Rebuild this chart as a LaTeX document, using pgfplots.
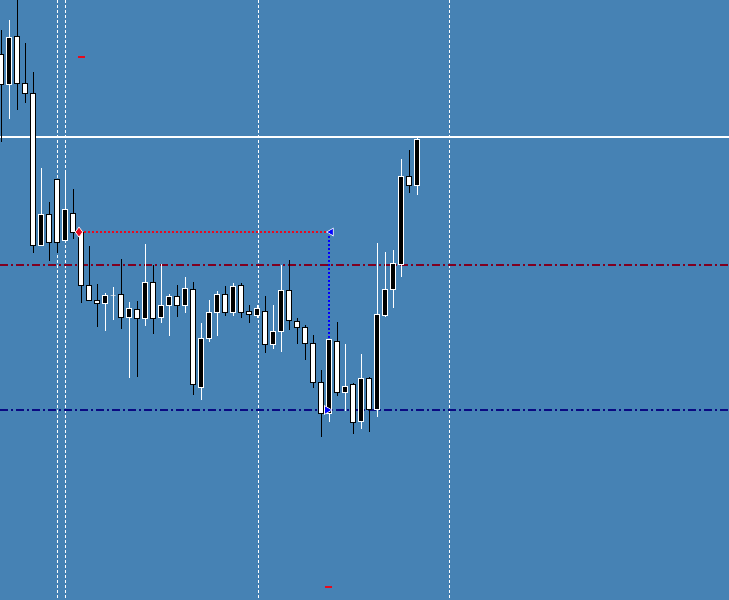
\documentclass[border=0pt]{standalone}
\usepackage{pgfplots}
\pgfplotsset{compat=1.18}
\definecolor{chartbg}{RGB}{70,130,180}
\definecolor{lvlred}{RGB}{128,0,32}
\definecolor{lvlblue}{RGB}{10,10,130}
\definecolor{mkred}{RGB}{230,10,30}
\definecolor{mkblue}{RGB}{0,0,255}

% candle: x, open, close, high, low, body fill, edge/wick colour
\newcommand\candle[7]{%
  \pgfmathsetmacro\xa{#1-2.5}%
  \pgfmathsetmacro\xb{#1+2.5}%
  \addplot[#7, line width=0.5pt] coordinates {(#1,#4) (#1,#5)};
  \edef\tmp{\noexpand\addplot[fill=#6, draw=#7, line width=0.5pt] coordinates {(\xa,#2) (\xb,#2) (\xb,#3) (\xa,#3)} -- cycle;}%
  \tmp
}
\newcommand\bull[5]{\candle{#1}{#2}{#3}{#4}{#5}{black}{white}}
\newcommand\bear[5]{\candle{#1}{#2}{#3}{#4}{#5}{white}{black}}

\begin{document}
\begin{tikzpicture}
\begin{axis}[
  scale only axis, width=364.5pt, height=300pt,
  xmin=0, xmax=729, ymin=0, ymax=600, y dir=reverse,
  axis background/.style={fill=chartbg},
  axis line style={draw=none}, ticks=none,
]
% period separators
\addplot[white, line width=0.5pt, dash pattern=on 1.5pt off 1pt] coordinates {(57,0) (57,600)};
\addplot[white, line width=0.5pt, dash pattern=on 1.5pt off 1pt] coordinates {(65,0) (65,600)};
\addplot[white, line width=0.5pt, dash pattern=on 1.5pt off 1pt] coordinates {(258,0) (258,600)};
\addplot[white, line width=0.5pt, dash pattern=on 1.5pt off 1pt] coordinates {(449,0) (449,600)};
% price level lines
\addplot[white, line width=0.6pt] coordinates {(0,137) (729,137)};
\addplot[lvlred, line width=0.6pt, dash pattern=on 4pt off 1.5pt on 1pt off 1.5pt] coordinates {(0,265) (729,265)};
\addplot[lvlblue, line width=0.6pt, dash pattern=on 4pt off 1.5pt on 1pt off 1.5pt] coordinates {(0,410) (729,410)};
% trade lines
\addplot[mkred, line width=0.55pt, dash pattern=on 1pt off 1pt] coordinates {(80,232) (330,232)};
\addplot[mkblue, line width=0.6pt, dash pattern=on 1pt off 1pt] coordinates {(329,232) (329,410)};
% small red marks
\addplot[mkred, line width=0.6pt] coordinates {(78,57) (85,57)};
\addplot[mkred, line width=0.6pt] coordinates {(325,587) (332,587)};

\bear{1}{54}{84}{30}{142}
\bull{9}{84}{37}{20}{119}
\bear{17}{36}{83}{-5}{110}
\bear{25}{83}{93}{43}{103}
\bear{33}{93}{245}{72}{253}
\bull{41}{245}{214}{168}{246}
\bear{49}{214}{242}{202}{261}
\bear{57}{179}{242}{179}{253}
\bull{65}{240}{209}{173}{240}
\bear{73}{213}{232}{189}{239}
\bear{81}{232}{285}{232}{303}
\bear{89}{285}{300}{246}{300}
\bear{97}{300}{303}{284}{327}
\bull{105}{303}{295}{293}{331}
\bull{113}{295}{295}{287}{320}
\bear{121}{294}{317}{259}{329}
\bull{129}{317}{308}{302}{378}
\bear{137}{309}{318}{301}{377}
\bull{145}{318}{282}{244}{326}
\bear{153}{282}{318}{265}{334}
\bull{161}{317}{305}{264}{323}
\bull{169}{305}{296}{294}{336}
\bear{177}{296}{305}{285}{317}
\bull{185}{305}{288}{277}{313}
\bear{193}{289}{384}{282}{395}
\bull{201}{387}{338}{323}{400}
\bull{209}{338}{312}{300}{342}
\bull{217}{312}{294}{291}{336}
\bear{225}{294}{312}{286}{316}
\bull{233}{312}{286}{283}{316}
\bear{241}{285}{312}{283}{318}
\bear{249}{311}{314}{305}{323}
\bull{257}{315}{308}{305}{318}
\bear{265}{311}{344}{296}{353}
\bull{273}{344}{331}{305}{349}
\bull{281}{331}{290}{265}{352}
\bear{289}{290}{320}{260}{330}
\bear{297}{321}{327}{318}{344}
\bear{305}{327}{343}{325}{360}
\bear{313}{343}{382}{335}{388}
\bear{321}{382}{413}{370}{437}
\bull{329}{413}{339}{339}{422}
\bear{337}{341}{392}{322}{396}
\bull{345}{392}{386}{344}{411}
\bear{353}{384}{422}{383}{434}
\bull{361}{421}{378}{354}{429}
\bear{369}{378}{409}{377}{432}
\bull{377}{409}{314}{243}{417}
\bull{385}{315}{289}{252}{317}
\bull{393}{289}{263}{250}{308}
\bull{401}{264}{176}{159}{277}
\bear{409}{176}{185}{150}{193}
\bull{417}{185}{139}{136}{195}

% trade markers
\addplot[only marks, mark=diamond*, mark size=2.5pt, mark options={fill=mkred, draw=white, line width=0.3pt}] coordinates {(79,232)};
\addplot[only marks, mark=triangle*, mark size=2.2pt, mark options={rotate=90, fill=mkblue, draw=white, line width=0.3pt}] coordinates {(331,232)};
\addplot[only marks, mark=triangle*, mark size=2.5pt, mark options={rotate=-90, fill=mkblue, draw=white, line width=0.3pt}] coordinates {(327,410)};
\end{axis}
\pgfresetboundingbox
\path (current axis.south west) rectangle (current axis.north east);
\end{tikzpicture}
\end{document}
